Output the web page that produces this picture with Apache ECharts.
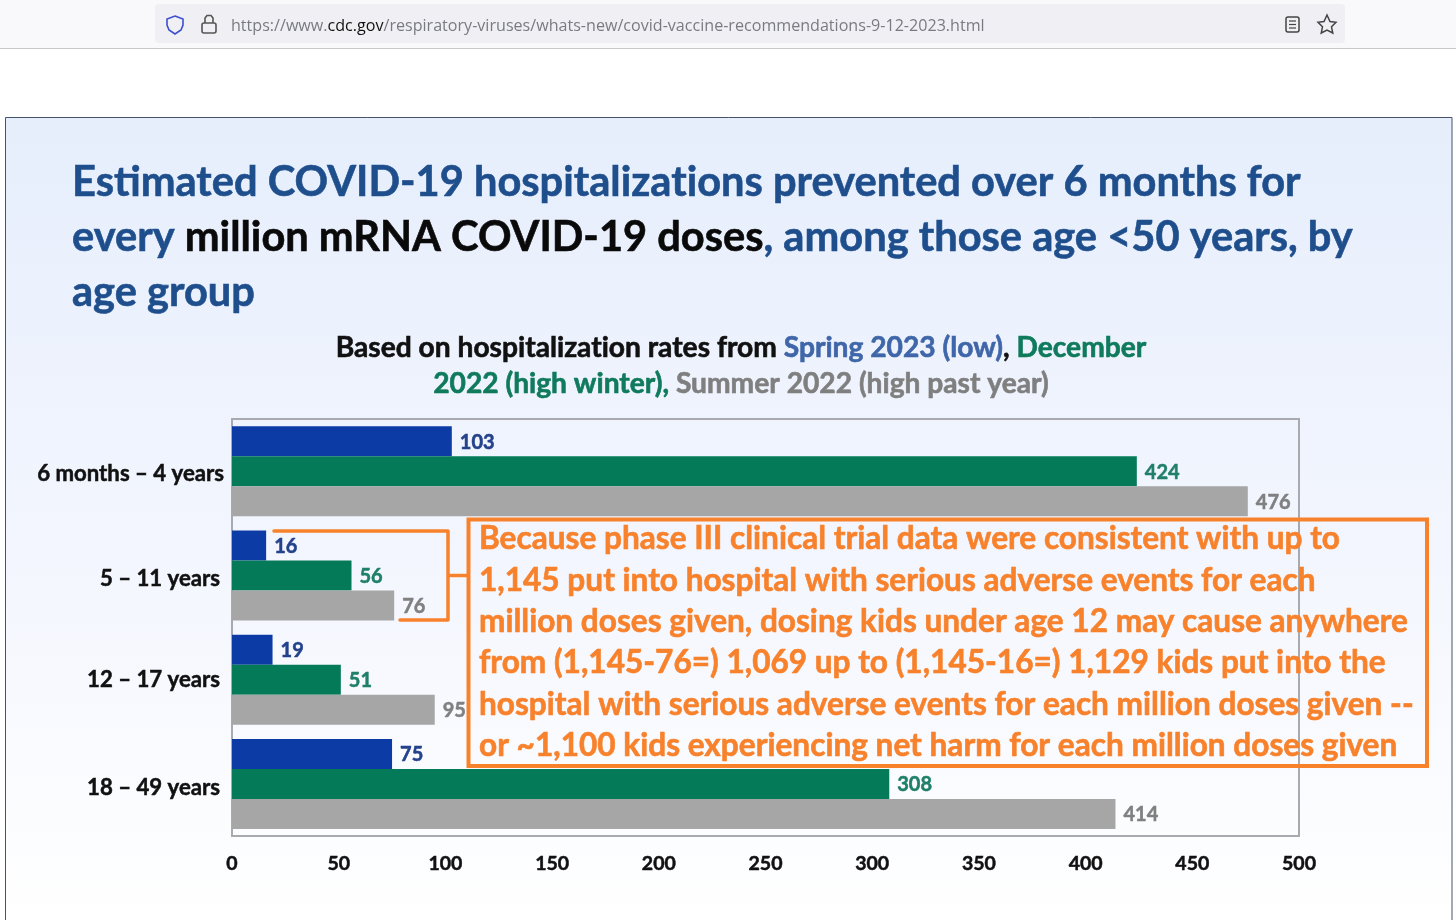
<!DOCTYPE html>
<html>
<head>
<meta charset="utf-8">
<title>COVID-19 hospitalizations prevented</title>
<script src="https://cdn.jsdelivr.net/npm/echarts@6/dist/echarts.min.js"></script>
<style>
  html, body { margin: 0; padding: 0; background: #fff; }
  #chart { width: 1456px; height: 920px; }
</style>
</head>
<body>
<div id="chart"></div>
<script>
const categories = ['6 months – 4 years', '5 – 11 years', '12 – 17 years', '18 – 49 years'];
const spring2023 = [103, 16, 19, 75];
const december2022 = [424, 56, 51, 308];
const summer2022 = [476, 76, 95, 414];

const TITLE_FONT = 'Lato';
const BLUE = '#0d3ba6';
const GREEN = '#047a58';
const GREY = '#a6a6a6';
const ORANGE = '#f8812c';
const TITLE_BLUE = '#1f4e8c';

const noteLines = [
  'Because phase III clinical trial data were consistent with up to',
  '1,145 put into hospital with serious adverse events for each',
  'million doses given, dosing kids under age 12 may cause anywhere',
  'from (1,145-76=) 1,069 up to (1,145-16=) 1,129 kids put into the',
  'hospital with serious adverse events for each million doses given --',
  'or ~1,100 kids experiencing net harm for each million doses given'
];
const noteCenters = [539, 581, 622, 663, 705, 746];

function barSeries(name, values, color, labelColor) {
  return {
    name: name,
    type: 'bar',
    data: values,
    barWidth: 30,
    barGap: 0,
    itemStyle: { color: color },
    label: {
      show: true,
      position: 'right',
      distance: 8,
      offset: [0, 1],
      color: labelColor,
      textBorderColor: labelColor,
      textBorderWidth: 0.5,
      fontFamily: TITLE_FONT,
      fontWeight: 'bold',
      fontSize: 20
    }
  };
}

// title lines share the same rich styles, colours differ by run
// the thin stroke thickens Lato Bold towards the weight of the slide font
function run(fill, size) {
  return { fill: fill, stroke: fill, lineWidth: 0.6, fontFamily: TITLE_FONT, fontWeight: 'bold', fontSize: size };
}
const titleRich = { b: run(TITLE_BLUE, 41.6), k: run('#0a0a0a', 41.6) };
const subRich = {
  k: run('#111', 28.2),
  b: run('#3f66a8', 28.2),
  g: run('#0f7a5c', 28.2),
  s: run('#7f7f7f', 28.2)
};

function textEl(x, y, text, rich, align) {
  return {
    type: 'text', x: x, y: y, z: 5,
    style: { text: text, rich: rich, align: align || 'left', verticalAlign: 'middle' }
  };
}

const graphics = [
  // browser bar
  { type: 'rect', z: -10, shape: { x: 0, y: 0, width: 1456, height: 48 }, style: { fill: '#f9f9fb' } },
  { type: 'line', z: -9, shape: { x1: 0, y1: 48.5, x2: 1456, y2: 48.5 }, style: { stroke: '#c8c8c8', lineWidth: 1 } },
  { type: 'rect', z: -9, shape: { x: 155, y: 4, width: 1190, height: 39, r: 4 }, style: { fill: '#f0f0f4' } },
  { type: 'polygon', z: 1, shape: { points: [[175, 16], [183, 19], [183, 25], [181, 30], [175, 34], [169, 30], [167, 25], [167, 19]] },
    style: { fill: 'none', stroke: '#3b4fd0', lineWidth: 1.6 } },
  { type: 'rect', z: 1, shape: { x: 202, y: 23, width: 14, height: 10, r: 2 }, style: { fill: 'none', stroke: '#555', lineWidth: 1.6 } },
  { type: 'polyline', z: 1, shape: { points: [[205, 23], [205, 18], [207, 15.5], [211, 15.5], [213, 18], [213, 23]] },
    style: { fill: 'none', stroke: '#555', lineWidth: 1.6 } },
  textEl(231, 26, '{g|https://www.}{k|cdc.gov}{g|/respiratory-viruses/whats-new/covid-vaccine-recommendations-9-12-2023.html}', {
    g: { fill: '#7a7a82', fontFamily: 'Open Sans', fontSize: 16.1 },
    k: { fill: '#111', fontFamily: 'Open Sans', fontSize: 16.1 }
  }),
  { type: 'rect', z: 1, shape: { x: 1286, y: 17, width: 13, height: 15, r: 2 }, style: { fill: 'none', stroke: '#444', lineWidth: 1.5 } },
  { type: 'line', z: 1, shape: { x1: 1289, y1: 21, x2: 1296, y2: 21 }, style: { stroke: '#444', lineWidth: 1.2 } },
  { type: 'line', z: 1, shape: { x1: 1289, y1: 24.5, x2: 1296, y2: 24.5 }, style: { stroke: '#444', lineWidth: 1.2 } },
  { type: 'line', z: 1, shape: { x1: 1289, y1: 28, x2: 1296, y2: 28 }, style: { stroke: '#444', lineWidth: 1.2 } },
  { type: 'polygon', z: 1, shape: { points: [[1327, 15], [1330, 21.5], [1336, 22.3], [1331.5, 26.8], [1332.8, 33], [1327, 30], [1321.2, 33], [1322.5, 26.8], [1318, 22.3], [1324, 21.5]] },
    style: { fill: 'none', stroke: '#444', lineWidth: 1.5 } },

  // slide panel
  { type: 'rect', z: -10, shape: { x: 5.5, y: 117.5, width: 1446.5, height: 803 },
    style: {
      stroke: '#44546a', lineWidth: 1,
      fill: new echarts.graphic.LinearGradient(0, 0, 0, 1, [
        { offset: 0, color: '#e6eefc' },
        { offset: 0.55, color: '#f3f6fe' },
        { offset: 1, color: '#ffffff' }
      ])
    } },

  // title, "ti" split over two runs so Lato does not ligate it
  textEl(72, 183, '{b|Estimat}{b|ed COVID-19 hospitalizat}{b|ions prevented over 6 months for}', titleRich),
  textEl(72, 238, '{b|every }{k|million mRNA COVID-19 doses}{b|, among those age <50 years, by}', titleRich),
  textEl(72, 293, '{b|age group}', titleRich),
  textEl(741, 348, '{k|Based on hospitalizat}{k|ion rates from }{b|Spring 2023 (low)}{k|, }{g|December}', subRich, 'center'),
  textEl(741, 384, '{g|2022 (high winter), }{s|Summer 2022 (high past year)}', subRich, 'center'),

  // bracket linking the 5-11 bars to the note
  { type: 'polyline', z: 6, shape: { points: [[274, 531], [448, 531], [448, 620], [400, 620]] },
    style: { fill: 'none', stroke: ORANGE, lineWidth: 3.5, lineCap: 'round', lineJoin: 'round' } },
  { type: 'line', z: 6, shape: { x1: 448, y1: 575.5, x2: 468, y2: 575.5 }, style: { stroke: ORANGE, lineWidth: 3.5 } },

  // note box
  { type: 'rect', z: 6, shape: { x: 468.5, y: 519.5, width: 958.5, height: 246.5 },
    style: { fill: 'none', stroke: ORANGE, lineWidth: 4 } }
];

noteLines.forEach(function (line, i) {
  graphics.push({
    type: 'text', x: 479, y: noteCenters[i], z: 7,
    style: {
      text: line, fill: ORANGE, stroke: ORANGE, lineWidth: 0.6,
      fontFamily: TITLE_FONT, fontWeight: 'bold', fontSize: 31.6, verticalAlign: 'middle'
    }
  });
});

const chart = echarts.init(document.getElementById('chart'), null, { renderer: 'canvas' });

// category labels sit a few px off the band centres in the source slide
const catLabelStyle = ['a', 'b', 'c', 'b'];
const catBase = {
  color: '#111', textBorderColor: '#111', textBorderWidth: 0.5,
  fontFamily: TITLE_FONT, fontWeight: 'bold', fontSize: 22.2
};

chart.setOption({
  animation: false,
  backgroundColor: 'transparent',
  grid: {
    left: 232, top: 419, width: 1067, height: 417,
    show: true, borderColor: '#a9a9b0', borderWidth: 2, backgroundColor: 'transparent'
  },
  xAxis: {
    type: 'value', min: 0, max: 500, interval: 50,
    splitLine: { show: false },
    axisLine: { show: false },
    axisTick: { show: false },
    axisLabel: {
      color: '#111', textBorderColor: '#111', textBorderWidth: 0.5,
      fontFamily: TITLE_FONT, fontWeight: 'bold', fontSize: 19.5, margin: 18
    }
  },
  yAxis: {
    type: 'category', data: categories, inverse: true,
    axisLine: { show: false },
    axisTick: { show: false },
    axisLabel: {
      margin: 8,
      formatter: function (value, i) {
        return '{' + catLabelStyle[i] + '|' + value + '}';
      },
      rich: {
        a: Object.assign({ padding: [6, 0, 0, 0] }, catBase),
        b: Object.assign({ padding: [7, 4, 0, 0] }, catBase),
        c: Object.assign({ padding: [0, 4, 0, 0] }, catBase)
      }
    }
  },
  series: [
    barSeries('Spring 2023 (low)', spring2023, BLUE, '#24418c'),
    barSeries('December 2022 (high winter)', december2022, GREEN, '#1f7f68'),
    barSeries('Summer 2022 (high past year)', summer2022, GREY, '#808080')
  ],
  graphic: { elements: graphics }
});
</script>
</body>
</html>
